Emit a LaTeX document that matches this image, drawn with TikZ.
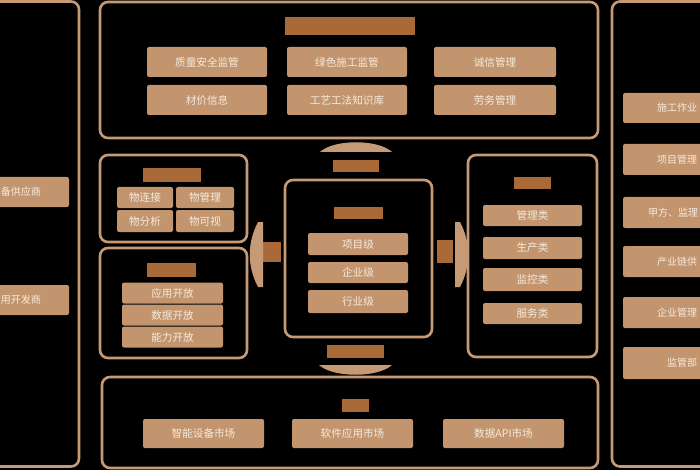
\documentclass[tikz,border=0pt]{standalone}
\usepackage{fontspec}
\setmainfont{Noto Sans CJK SC}
\definecolor{framec}{RGB}{198,154,116}
\definecolor{cellc}{RGB}{194,149,110}
\definecolor{headc}{RGB}{170,106,56}
\definecolor{inkc}{RGB}{246,234,222}

\begin{document}
\begin{tikzpicture}[x=1pt, y=-1pt,
   panel/.style={draw=framec, line width=2.6pt, rounded corners=8pt, inner sep=0},
   blob/.style={fill=headc, inner sep=0},
   dome/.style={fill=framec}]
   \fill[black] (0,0) rectangle (700,470);
   \useasboundingbox (0,0) rectangle (700,470);
   \clip (0,0) rectangle (700,470);

 % frames
   \node (lout) [panel, minimum width=104, minimum height=465] at (27,234) {};
   \node (rout) [panel, minimum width=113, minimum height=465] at (668.5,234) {};
   \node (top) [panel, minimum width=498, minimum height=136] at (349,70) {};
   \node (iot) [panel, minimum width=147, minimum height=87] at (173.5,198.5) {};
   \node (open) [panel, minimum width=147, minimum height=110] at (173.5,303) {};
   \node (mid) [panel, minimum width=147, minimum height=157] at (358.5,258.5) {};
   \node (app) [panel, minimum width=129, minimum height=202] at (532.5,256) {};
   \node (mkt) [panel, minimum width=496, minimum height=91] at (350,422.5) {};

 % headings
   \node (ttop) [blob, minimum width=130, minimum height=18] at (350,26) {};
   \node (tup) [blob, minimum width=46, minimum height=12] at (356,166) {};
   \node (tmid) [blob, minimum width=49, minimum height=12] at (358.5,213) {};
   \node (tdown) [blob, minimum width=57, minimum height=13] at (355.5,351.5) {};
   \node (tiot) [blob, minimum width=58, minimum height=14] at (172,175) {};
   \node (topen) [blob, minimum width=49, minimum height=14] at (171.5,270) {};
   \node (tleft) [blob, minimum width=18, minimum height=20] at (272,252) {};
   \node (tright) [blob, minimum width=16, minimum height=23] at (445,251.5) {};
   \node (tapp) [blob, minimum width=37, minimum height=12] at (532.5,183) {};
   \node (tmkt) [blob, minimum width=27, minimum height=13] at (355.5,405.5) {};

 % domes
   \fill[dome] (320,152) .. controls (334,139) and (378,139) .. (392,152) -- cycle;
   \fill[dome] (319,365) .. controls (333,378) and (378,378) .. (392,365) -- cycle;
   \fill[dome] (263,222) -- (263,287) -- (258,287) .. controls (247,266) and (247,243) .. (258,222) -- cycle;
   \fill[dome] (455,222) -- (455,287) -- (460,287) .. controls (471,266) and (471,243) .. (460,222) -- cycle;

 \begin{scope}[every node/.style={fill=cellc, rounded corners=2pt, inner sep=0,
      text=inkc, font=\fontsize{10.6}{12}\selectfont}]
   % top panel
   \node (q1) [minimum width=120, minimum height=30] at (207,62) {质量安全监管};
   \node (q2) [minimum width=120, minimum height=30] at (347,62) {绿色施工监管};
   \node (q3) [minimum width=122, minimum height=30] at (495,62) {诚信管理};
   \node (q4) [minimum width=120, minimum height=30] at (207,100) {材价信息};
   \node (q5) [minimum width=120, minimum height=30] at (347,100) {工艺工法知识库};
   \node (q6) [minimum width=122, minimum height=30] at (495,100) {劳务管理};
   % iot
   \node (w1) [minimum width=56, minimum height=21] at (145,197.5) {物连接};
   \node (w2) [minimum width=58, minimum height=21] at (205,197.5) {物管理};
   \node (w3) [minimum width=56, minimum height=22] at (145,221) {物分析};
   \node (w4) [minimum width=58, minimum height=22] at (205,221) {物可视};
   % open
   \node (k1) [minimum width=101, minimum height=21] at (172.5,293) {应用开放};
   \node (k2) [minimum width=101, minimum height=21] at (172.5,315) {数据开放};
   \node (k3) [minimum width=101, minimum height=21] at (172.5,337) {能力开放};
   % levels
   \node (v1) [minimum width=100, minimum height=22] at (358,244) {项目级};
   \node (v2) [minimum width=100, minimum height=21] at (358,272.5) {企业级};
   \node (v3) [minimum width=100, minimum height=23] at (358,301.5) {行业级};
   % app types
   \node (a1) [minimum width=99, minimum height=21] at (532.5,215.5) {管理类};
   \node (a2) [minimum width=99, minimum height=22] at (532.5,248) {生产类};
   \node (a3) [minimum width=99, minimum height=23] at (532.5,279.5) {监控类};
   \node (a4) [minimum width=99, minimum height=21] at (532.5,313.5) {服务类};
   % market
   \node (m1) [minimum width=121, minimum height=29] at (203.5,433.5) {智能设备市场};
   \node (m2) [minimum width=121, minimum height=29] at (352.5,433.5) {软件应用市场};
   \node (m3) [minimum width=121, minimum height=29] at (503.5,433.5) {数据API市场};
   % sides
   \node (s1) [minimum width=106, minimum height=30] at (16,192) {};
   \node (s2) [minimum width=106, minimum height=30] at (16,300) {};
   \node (r1) [minimum width=128, minimum height=30] at (687,108) {};
   \node (r2) [minimum width=128, minimum height=31] at (687,159.5) {};
   \node (r3) [minimum width=128, minimum height=31] at (687,212.5) {};
   \node (r4) [minimum width=128, minimum height=31] at (687,261.5) {};
   \node (r5) [minimum width=128, minimum height=31] at (687,312.5) {};
   \node (r6) [minimum width=128, minimum height=32] at (687,363) {};
 \end{scope}

 \begin{scope}[every node/.style={inner sep=0, text=inkc, font=\fontsize{10}{12}\selectfont}]
   \node (s1t) [anchor=east] at (41,192) {备供应商};
   \node (s2t) [anchor=east] at (41,300) {用开发商};
   \node (r1t) [anchor=west] at (657,108) {施工作业};
   \node (r2t) [anchor=west] at (657,159.5) {项目管理};
   \node (r3t) [anchor=west] at (648,212.5) {甲方、监理};
   \node (r4t) [anchor=west] at (657,261.5) {产业链供};
   \node (r5t) [anchor=west] at (657,312.5) {企业管理};
   \node (r6t) [anchor=west] at (667,363) {监管部};
 \end{scope}
\end{tikzpicture}
\end{document}
